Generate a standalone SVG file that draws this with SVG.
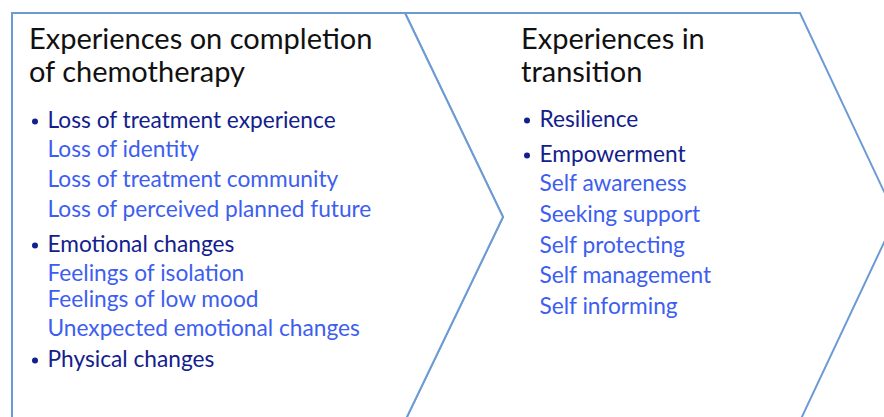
<svg xmlns="http://www.w3.org/2000/svg" width="884" height="417" viewBox="0 0 884 417">
<style>
.shape{fill:#ffffff;stroke:#6c9bd3;stroke-width:2;stroke-linejoin:miter}
text{font-family:Lato,"Open Sans","Liberation Sans",sans-serif}
.title{font-size:29px;fill:#111111}
.bul{font-size:22.7px;fill:#13208c}
.sub{font-size:22.7px;fill:#3d5ef0}
.dot{fill:#13208c}
</style>
<rect width="884" height="417" fill="#ffffff"/>
<g id="connectors"/>
<g id="node-transition">
<polygon class="shape" points="405,13 800,13 896,217 800,421 405,421 503,217"/>
<text class="title" x="521" y="49">Experiences in</text>
<text class="title" x="521" y="82">transition</text>
<circle class="dot" cx="527" cy="120.5" r="3"/>
<text class="bul" x="539.5" y="127">Resilience</text>
<circle class="dot" cx="527" cy="155.5" r="3"/>
<text class="bul" x="539.5" y="162">Empowerment</text>
<text class="sub" x="539.5" y="191">Self awareness</text>
<text class="sub" x="539.5" y="222">Seeking support</text>
<text class="sub" x="539.5" y="253">Self protecting</text>
<text class="sub" x="539.5" y="283">Self management</text>
<text class="sub" x="539.5" y="314">Self informing</text>
</g>
<g id="node-completion">
<polygon class="shape" points="12,13 405,13 503,217 405,421 12,421"/>
<text class="title" x="29" y="49">Experiences on completion</text>
<text class="title" x="29" y="82">of chemotherapy</text>
<circle class="dot" cx="35" cy="121.5" r="3"/>
<text class="bul" x="47.5" y="128">Loss of treatment experience</text>
<text class="sub" x="47.5" y="157">Loss of identity</text>
<text class="sub" x="47.5" y="187">Loss of treatment community</text>
<text class="sub" x="47.5" y="217">Loss of perceived planned future</text>
<circle class="dot" cx="35" cy="245.5" r="3"/>
<text class="bul" x="47.5" y="252">Emotional changes</text>
<text class="sub" x="47.5" y="281">Feelings of isolation</text>
<text class="sub" x="47.5" y="307">Feelings of low mood</text>
<text class="sub" x="47.5" y="336">Unexpected emotional changes</text>
<circle class="dot" cx="35" cy="360.5" r="3"/>
<text class="bul" x="47.5" y="367">Physical changes</text>
</g>
</svg>
